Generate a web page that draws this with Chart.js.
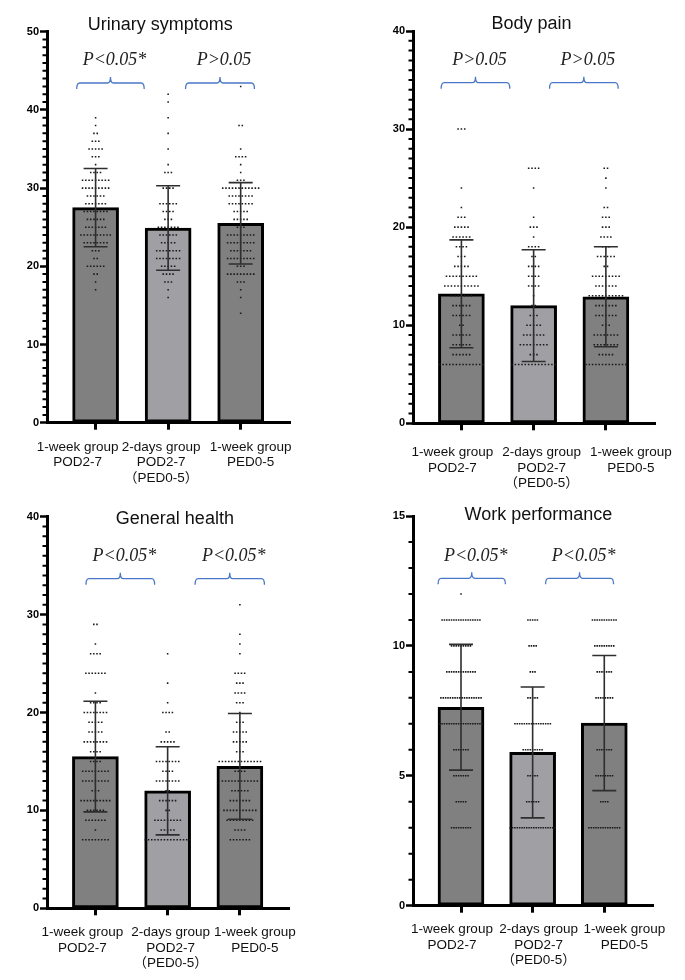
<!DOCTYPE html>
<html>
<head>
<meta charset="utf-8">
<script src="https://cdn.jsdelivr.net/npm/chart.js@4.4.1/dist/chart.umd.min.js"></script>
<style>
html,body{margin:0;padding:0;background:#fff;}
#wrap{position:relative;width:685px;height:980px;}
canvas{position:absolute;}
</style>
</head>
<body>
<div id="wrap">
<canvas id="c1" width="340" height="490" style="left:0;top:0"></canvas>
<canvas id="c2" width="345" height="490" style="left:340px;top:0"></canvas>
<canvas id="c3" width="340" height="490" style="left:0;top:490px"></canvas>
<canvas id="c4" width="345" height="490" style="left:340px;top:490px"></canvas>
</div>
<script>
// group labels (x axis)
const groupLabels = [["1-week group","POD2-7"],["2-days group","POD2-7","（PED0-5）"],["1-week group","PED0-5"]];
const barColors = ["#808080","#a0a0a4","#808080"];

// Urinary symptoms
const urinaryMean = [27.5, 24.9, 25.5];
const urinarySD = [5.0, 5.4, 5.2];
const urinaryP = ["P<0.05*", "P>0.05"];
// [score, number of patients]
const urinaryDots = [
  [[39,1],[38,1],[37,2],[36,3],[35,5],[34,3],[33,1],[32,4],[31,9],[30,9],[29,6],[28,7],[27,8],[26,6],[25,7],[24,10],[23,8],[22,3],[21,2],[20,6],[19,2],[18,1],[17,1]],
  [[42,1],[41,1],[39,1],[37,1],[35,1],[33,1],[32,3],[30,4],[28,6],[27,4],[26,3],[25,7],[24,6],[23,5],[22,8],[21,8],[20,5],[19,4],[18,3],[17,1],[16,1]],
  [[43,1],[38,2],[35,1],[34,4],[33,1],[32,1],[31,3],[30,12],[29,8],[28,8],[27,5],[26,5],[25,3],[24,9],[23,9],[22,7],[21,9],[20,3],[19,9],[18,3],[17,1],[16,1],[14,1]]
];

// Body pain
const painMean = [13.2, 12.0, 12.9];
const painSD = [5.5, 5.7, 5.1];
const painP = ["P>0.05", "P>0.05"];
const painDots = [
  [[30,3],[24,1],[22,1],[21,3],[20,5],[19,6],[18,4],[17,3],[16,5],[15,10],[14,11],[13,7],[12,6],[11,6],[10,2],[9,6],[8,6],[7,6],[6,14]],
  [[26,4],[24,1],[21,1],[20,3],[19,1],[18,4],[17,2],[16,4],[15,4],[14,4],[13,1],[12,2],[11,3],[10,5],[9,7],[8,9],[7,3],[6,14]],
  [[26,2],[25,1],[24,1],[22,2],[21,3],[20,3],[19,4],[18,3],[17,6],[16,2],[15,9],[14,7],[13,11],[12,7],[11,7],[10,3],[9,8],[8,8],[7,5],[6,13]]
];

// General health
const healthMean = [15.5, 12.0, 14.5];
const healthSD = [5.65, 4.5, 5.4];
const healthP = ["P<0.05*", "P<0.05*"];
const healthDots = [
  [[29,2],[27,1],[26,4],[24,7],[22,1],[21,4],[20,8],[19,5],[18,5],[17,8],[16,4],[15,4],[14,9],[13,9],[12,3],[11,10],[10,6],[9,7],[8,1],[7,9]],
  [[26,1],[23,1],[21,1],[20,4],[18,2],[17,5],[15,8],[14,4],[13,8],[12,2],[11,6],[10,2],[9,9],[8,5],[7,15]],
  [[31,1],[28,1],[27,1],[26,1],[24,4],[23,3],[22,4],[21,3],[20,1],[19,3],[18,5],[17,5],[16,3],[15,14],[14,4],[13,12],[12,6],[11,7],[10,11],[9,9],[8,4],[7,7]]
];

// Work performance
const workMean = [7.64, 5.9, 7.03];
const workSD = [2.42, 2.52, 2.6];
const workP = ["P<0.05*", "P<0.05*"];
const workDots = [
  [[12,1],[11,17],[10,9],[9,13],[8,18],[7,19],[6,7],[5,7],[4,5],[3,9]],
  [[11,5],[10,4],[9,3],[8,5],[7,16],[6,9],[5,5],[4,6],[3,20]],
  [[11,11],[10,9],[9,7],[8,8],[6,7],[5,8],[4,4],[3,14]]
];

Chart.defaults.font.family = '"Liberation Sans", Arial, sans-serif';
Chart.defaults.color = "#000";

const panels = [
  {id:"c1", title:"Urinary symptoms", mean:urinaryMean, sd:urinarySD, dots:urinaryDots, pText:urinaryP,
   yMax:50, major:10, spread:0.045, pad:{left:7, top:31.7, right:50, bottom:0}, xH:67.3,
   titleX:1.89, titleDy:-2, textDy:33, brDy:51.3, brackets:[[0.74,1.67],[2.24,3.19]],
   labelDx:[-18,-7,10], labelDy:24.3},
  {id:"c2", title:"Body pain", mean:painMean, sd:painSD, dots:painDots, pText:painP,
   yMax:40, major:10, spread:0.046, pad:{left:33, top:31, right:30, bottom:0}, xH:66.7,
   titleX:1.97, titleDy:-2, textDy:34, brDy:51.7, brackets:[[0.72,1.67],[2.22,3.17]],
   labelDx:[-9,8,25], labelDy:29},
  {id:"c3", title:"General health", mean:healthMean, sd:healthSD, dots:healthDots, pText:healthP,
   yMax:40, major:10, spread:0.044, pad:{left:7, top:26.7, right:51, bottom:0}, xH:71.7,
   titleX:2.10, titleDy:7, textDy:44.5, brDy:62, brackets:[[0.87,1.82],[2.38,3.34]],
   labelDx:[-13,3,15], labelDy:24},
  {id:"c4", title:"Work performance", mean:workMean, sd:workSD, dots:workDots, pText:workP,
   yMax:15, major:5, spread:0.033, pad:{left:33, top:26, right:32, bottom:0}, xH:74.3,
   titleX:2.08, titleDy:3.5, textDy:45, brDy:62.3, brackets:[[0.68,1.62],[2.18,3.13]],
   labelDx:[-9,6,20], labelDy:24}
];

function dotPoints(dots, spread){
  const pts = [];
  dots.forEach((rows, g) => {
    rows.forEach(([v, n]) => {
      for (let k = 0; k < n; k++) pts.push({x: g + 1 + (k - (n - 1) / 2) * spread, y: v});
    });
  });
  return pts;
}

function panelPlugin(p){
  return {
    id: "panel_" + p.id,
    afterDatasetsDraw(chart){
      const {ctx, scales:{x, y}} = chart;
      ctx.save();
      ctx.strokeStyle = "#2e2e2e";
      ctx.lineWidth = 1.6;
      p.mean.forEach((m, i) => {
        const px = x.getPixelForValue(i + 1);
        const hi = y.getPixelForValue(m + p.sd[i]);
        const lo = y.getPixelForValue(m - p.sd[i]);
        ctx.beginPath();
        ctx.moveTo(px, hi); ctx.lineTo(px, lo);
        ctx.moveTo(px - 12, hi); ctx.lineTo(px + 12, hi);
        ctx.moveTo(px - 12, lo); ctx.lineTo(px + 12, lo);
        ctx.stroke();
      });
      ctx.restore();
    },
    afterDraw(chart){
      const {ctx, chartArea:a, scales:{x, y}} = chart;
      ctx.save();
      // minor ticks
      ctx.strokeStyle = "#000";
      ctx.lineWidth = 2;
      ctx.beginPath();
      for (let v = 1; v < p.yMax; v++) {
        if (v % p.major === 0) continue;
        const py = y.getPixelForValue(v);
        ctx.moveTo(a.left - 4.5, py); ctx.lineTo(a.left, py);
      }
      ctx.stroke();
      // title
      ctx.fillStyle = "#111";
      ctx.font = '18px "Liberation Sans", Arial, sans-serif';
      ctx.textAlign = "center";
      ctx.textBaseline = "alphabetic";
      ctx.fillText(p.title, x.getPixelForValue(p.titleX), a.top + p.titleDy);
      // brackets and p values
      p.brackets.forEach((b, i) => {
        const x0 = x.getPixelForValue(b[0]), x1 = x.getPixelForValue(b[1]);
        const xm = (x0 + x1) / 2, by = a.top + p.brDy;
        ctx.strokeStyle = "#4a78c8";
        ctx.lineWidth = 1.3;
        ctx.beginPath();
        ctx.moveTo(x0, by + 6);
        ctx.quadraticCurveTo(x0, by, x0 + 3, by);
        ctx.lineTo(xm - 3, by);
        ctx.quadraticCurveTo(xm, by, xm, by - 6);
        ctx.quadraticCurveTo(xm, by, xm + 3, by);
        ctx.lineTo(x1 - 3, by);
        ctx.quadraticCurveTo(x1, by, x1, by + 6);
        ctx.stroke();
        ctx.fillStyle = "#222";
        ctx.font = 'italic 18px "Liberation Serif", "Times New Roman", serif';
        ctx.fillText(p.pText[i], xm + 4, a.top + p.textDy);
      });
      // x labels
      ctx.fillStyle = "#111";
      ctx.font = '13.5px "Liberation Sans", Arial, "Noto Sans CJK SC", sans-serif';
      ctx.textBaseline = "middle";
      groupLabels.forEach((lines, i) => {
        lines.forEach((t, j) => {
          ctx.fillText(t, x.getPixelForValue(i + 1) + p.labelDx[i], a.bottom + p.labelDy + j * 15.5);
        });
      });
      ctx.restore();
    }
  };
}

panels.forEach(p => {
  new Chart(document.getElementById(p.id), {
    type: "bar",
    data: {
      datasets: [
        {type:"scatter", data: dotPoints(p.dots, p.spread), pointStyle:"rect", pointRadius:1.1, pointBackgroundColor:"#1a1a1a",
         pointBorderWidth:0, showLine:false, order:0},
        {type:"bar", data: p.mean.map((m, i) => ({x: i + 1, y: m})), backgroundColor: barColors,
         borderColor:"#000", borderWidth:3, borderSkipped:false, barThickness:46, order:1}
      ]
    },
    options: {
      responsive:false,
      animation:false,
      layout:{padding:p.pad},
      plugins:{legend:{display:false}, tooltip:{enabled:false}, title:{display:false}},
      scales:{
        x:{type:"linear", min:0.33, max:3.68, offset:false,
           afterBuildTicks: s => { s.ticks = [1,2,3].map(v => ({value:v})); },
           afterFit: s => { s.height = p.xH; },
           ticks:{display:false},
           grid:{display:true, offset:false, drawOnChartArea:false, drawTicks:true, tickLength:7, tickWidth:3, tickColor:"#000"},
           border:{display:true, width:3, color:"#000"}},
        y:{type:"linear", min:0, max:p.yMax,
           afterFit: s => { s.width = 40; },
           ticks:{stepSize:p.major, padding:1, color:"#000", font:{size:11, weight:"bold"}},
           grid:{display:true, drawOnChartArea:false, drawTicks:true, tickLength:7, tickWidth:2.5, tickColor:"#000"},
           border:{display:true, width:3, color:"#000"}}
      }
    },
    plugins:[panelPlugin(p)]
  });
});
</script>
</body>
</html>
